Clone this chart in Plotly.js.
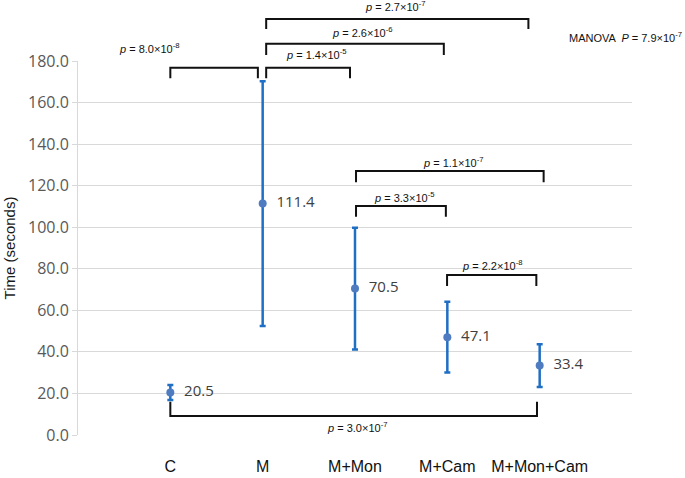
<!DOCTYPE html>
<html>
<head>
<meta charset="utf-8">
<script src="https://cdn.plot.ly/plotly-3.0.1.min.js"></script>
<style>html,body{margin:0;padding:0;background:#fff;}#chart{width:685px;height:478px;}</style>
</head>
<body>
<div id="chart"></div>
<script>
// ---- data ----
const categories = ["C", "M", "M+Mon", "M+Cam", "M+Mon+Cam"];
const meanTime = [20.5, 111.4, 70.5, 47.1, 33.4];
const errTime = [3.6, 58.9, 29.3, 17.0, 10.3];
const pLabels = ["8.0×10<sup>-8</sup>", "1.4×10<sup>-5</sup>", "2.6×10<sup>-6</sup>", "2.7×10<sup>-7</sup>",
                 "1.1×10<sup>-7</sup>", "3.3×10<sup>-5</sup>", "2.2×10<sup>-8</sup>", "3.0×10<sup>-7</sup>"];
const manovaP = "7.9×10<sup>-7</sup>";

// ---- bracket layout (x in category units, y in data units) ----
const Y_MAX = 180;
const brackets = [
  {x0: 0.0,   x1: 0.948, top: 176.8, leg: 171.7, lx: -0.227, ly: 186.3},
  {x0: 1.038, x1: 1.946, top: 176.8, leg: 171.7, lx: 1.578,  ly: 183.2},
  {x0: 1.038, x1: 2.962, top: 188.3, leg: 182.9, lx: 2.076,  ly: 194.1},
  {x0: 1.038, x1: 3.878, top: 200.2, leg: 195.4, lx: 2.433,  ly: 206.5},
  {x0: 2.011, x1: 4.043, top: 127.1, leg: 121.6, lx: 3.06,   ly: 131.5},
  {x0: 2.011, x1: 2.984, top: 110.2, leg: 105.1, lx: 2.53,   ly: 114.7},
  {x0: 2.997, x1: 3.964, top: 77.0,  leg: 71.7,  lx: 3.484,  ly: 81.8},
  {x0: 0.0,   x1: 3.971, top: 9.1,   leg: 16.0,  lx: 2.02,   ly: 4.0}
];

const xIdx = categories.map((c, i) => i);
const py = v => v / Y_MAX;

const shapes = brackets.map(b => ({
  type: 'path', xref: 'x', yref: 'paper',
  path: `M ${b.x0},${py(b.leg)} L ${b.x0},${py(b.top)} L ${b.x1},${py(b.top)} L ${b.x1},${py(b.leg)}`,
  line: {color: '#111111', width: 2}
}));

const annFont = {family: 'Liberation Sans, Arial, sans-serif', size: 11, color: '#111111'};
const annotations = brackets.map((b, i) => ({
  xref: 'x', yref: 'paper', x: b.lx, y: py(b.ly), xanchor: 'center', yanchor: 'middle',
  text: '<i>p</i> = ' + pLabels[i], showarrow: false, font: annFont
}));
annotations.push({
  xref: 'paper', yref: 'paper', x: 1.094, y: 1.064, xanchor: 'right', yanchor: 'middle',
  text: 'MANOVA  <i>P</i> = ' + manovaP, showarrow: false, font: annFont
});

const trace = {
  type: 'scatter', mode: 'markers+text',
  x: xIdx, y: meanTime,
  text: meanTime.map(v => '  ' + v.toFixed(1)),
  textposition: 'middle right',
  textfont: {family: 'Open Sans, sans-serif', size: 15, color: '#404040'},
  marker: {color: '#4f7cc0', size: 8},
  error_y: {type: 'data', array: errTime, visible: true, color: '#1f6fc4', thickness: 2.5, width: 3},
  cliponaxis: false, hoverinfo: 'none', showlegend: false
};

const layout = {
  width: 685, height: 478,
  margin: {l: 78, r: 53, t: 61, b: 43, pad: 0},
  paper_bgcolor: '#ffffff', plot_bgcolor: '#ffffff',
  showlegend: false,
  xaxis: {
    range: [-1, 5], tickvals: xIdx, ticktext: categories,
    showgrid: false, zeroline: false, showline: false, ticks: '',
    ticklabelstandoff: 20,
    tickfont: {family: 'Liberation Sans, Arial, sans-serif', size: 16, color: '#111111'},
    fixedrange: true
  },
  yaxis: {
    range: [0, Y_MAX], dtick: 20, tick0: 0, tickformat: '.1f',
    showgrid: true, gridcolor: '#d9d9d9', gridwidth: 1,
    zeroline: false, showline: true, linecolor: '#d9d9d9', linewidth: 1,
    ticks: 'outside', ticklen: 5, tickcolor: '#d9d9d9',
    tickfont: {family: 'Open Sans, sans-serif', size: 16, color: '#595959'},
    title: {text: 'Time (seconds)', font: {family: 'Liberation Sans, Arial, sans-serif', size: 15, color: '#1a1a1a'}, standoff: 8},
    fixedrange: true
  },
  shapes: shapes,
  annotations: annotations
};

Plotly.newPlot('chart', [trace], layout, {displayModeBar: false, staticPlot: true});
</script>
</body>
</html>
